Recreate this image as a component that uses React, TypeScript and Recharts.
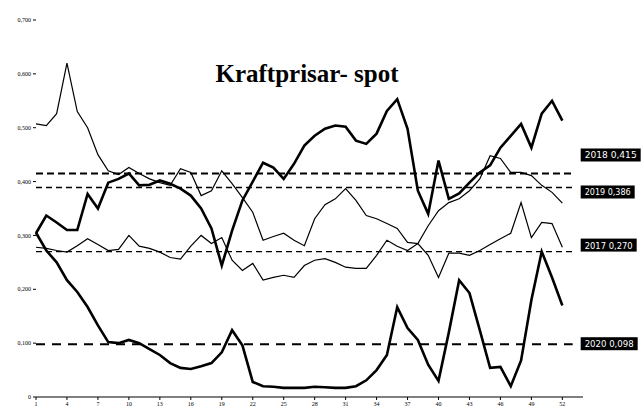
import React from 'react';
import { LineChart, Line, XAxis, YAxis, ReferenceLine } from 'recharts';

// weekly spot prices, kr/kWh
const weeks = [
  1, 2, 3, 4, 5, 6, 7, 8, 9, 10, 11, 12, 13, 14, 15, 16, 17, 18, 19, 20, 21, 22, 23, 24, 25, 26,
  27, 28, 29, 30, 31, 32, 33, 34, 35, 36, 37, 38, 39, 40, 41, 42, 43, 44, 45, 46, 47, 48, 49, 50, 51, 52,
];

const price2017 = [
  0.278, 0.276, 0.272, 0.269, 0.281, 0.294, 0.283, 0.272, 0.274, 0.3, 0.28, 0.276, 0.269, 0.259,
  0.256, 0.28, 0.3, 0.285, 0.296, 0.254, 0.235, 0.248, 0.217, 0.222, 0.226, 0.222, 0.244, 0.254,
  0.257, 0.25, 0.241, 0.239, 0.239, 0.263, 0.291, 0.28, 0.272, 0.285, 0.263, 0.222, 0.267, 0.267,
  0.263, 0.272, 0.283, 0.294, 0.304, 0.361, 0.296, 0.324, 0.322, 0.278,
];

const price2018 = [
  0.304, 0.337, 0.324, 0.31, 0.31, 0.377, 0.35, 0.398, 0.405, 0.415, 0.393, 0.394, 0.402, 0.396,
  0.387, 0.374, 0.35, 0.313, 0.244, 0.309, 0.365, 0.4, 0.435, 0.426, 0.405, 0.433, 0.467, 0.485,
  0.498, 0.504, 0.502, 0.476, 0.47, 0.489, 0.531, 0.553, 0.498, 0.383, 0.34, 0.439, 0.368, 0.378,
  0.398, 0.417, 0.43, 0.463, 0.485, 0.507, 0.463, 0.526, 0.55, 0.513,
];

const price2019 = [
  0.507, 0.504, 0.526, 0.62, 0.53, 0.5, 0.45, 0.42, 0.413, 0.426, 0.415, 0.405, 0.398, 0.393,
  0.424, 0.417, 0.374, 0.383, 0.42, 0.396, 0.37, 0.343, 0.291, 0.298, 0.304, 0.291, 0.281, 0.331,
  0.357, 0.368, 0.387, 0.365, 0.337, 0.331, 0.322, 0.313, 0.287, 0.285, 0.318, 0.346, 0.361, 0.368,
  0.383, 0.405, 0.448, 0.443, 0.417, 0.417, 0.411, 0.393, 0.38, 0.36,
];

const price2020 = [
  0.305, 0.272, 0.25, 0.217, 0.195, 0.167, 0.133, 0.102, 0.1, 0.106, 0.1, 0.089, 0.078, 0.063,
  0.054, 0.052, 0.057, 0.063, 0.083, 0.124, 0.096, 0.028, 0.02, 0.019, 0.017, 0.017, 0.017, 0.019,
  0.018, 0.017, 0.017, 0.02, 0.031, 0.05, 0.078, 0.167, 0.128, 0.106, 0.06, 0.03, 0.12, 0.217,
  0.193, 0.124, 0.054, 0.056, 0.02, 0.068, 0.18, 0.27, 0.222, 0.17,
];

// yearly averages (dashed lines)
const averages = [0.415, 0.389, 0.27, 0.098];
const averageLabels = ['2018 0,415', '2019 0,386', '2017 0,270', '2020 0,098'];

const xTicks = [1, 4, 7, 10, 13, 16, 19, 22, 25, 28, 31, 34, 37, 40, 43, 46, 49, 52];
const yTicks = [0, 0.1, 0.2, 0.3, 0.4, 0.5, 0.6, 0.7];
const yTickLabels = ['0', '0,100', '0,200', '0,300', '0,400', '0,500', '0,600', '0,700'];

const data = weeks.map((week, i) => ({
  week,
  y2017: price2017[i],
  y2018: price2018[i],
  y2019: price2019[i],
  y2020: price2020[i],
}));

// look of each average line and where its tag sits relative to the line end
const avgStyle = [
  { width: 2, dash: '7 4', dy: -18, boxW: 60 },
  { width: 1.6, dash: '6 4', dy: 5, boxW: 54 },
  { width: 1.4, dash: '6 4', dy: -6, boxW: 56 },
  { width: 2, dash: '9 7', dy: 0, boxW: 57 },
];

const TagLabel = ({ viewBox, text, dy, boxW }: any) => {
  if (!viewBox) return null;
  const x = viewBox.x + viewBox.width + 8;
  const y = viewBox.y + dy;
  return (
    <g>
      <rect x={x} y={y - 7} width={boxW} height={13} fill="#000" />
      <text
        x={x + boxW / 2}
        y={y + 3}
        textAnchor="middle"
        fill="#fff"
        fontSize={8}
        fontFamily="DejaVu Sans, sans-serif"
        textLength={boxW - 8}
        lengthAdjust="spacingAndGlyphs"
      >
        {text}
      </text>
    </g>
  );
};

const App: React.FC = () => {
  return (
    <div style={{ position: 'absolute', left: 0, top: 0, width: 643, height: 409, background: '#fff' }}>
      <div
        style={{
          position: 'absolute',
          left: 0,
          top: 61,
          width: 614,
          textAlign: 'center',
          fontFamily: '"Liberation Serif", serif',
          fontWeight: 'bold',
          fontSize: 25,
          lineHeight: 1,
          color: '#000',
        }}
      >
        Kraftprisar- spot
      </div>
      <LineChart width={643} height={409} data={data} margin={{ top: 20, right: 60, bottom: 0, left: 0 }}>
        <XAxis
          dataKey="week"
          type="number"
          domain={[1, 54]}
          ticks={xTicks}
          interval={0}
          height={12}
          tickSize={3}
          stroke="#000"
          tick={{ fontSize: 6, fill: '#000', fontFamily: 'Liberation Serif' }}
        />
        <YAxis
          type="number"
          domain={[0, 0.7]}
          ticks={yTicks}
          width={36}
          axisLine={false}
          tickSize={3}
          stroke="#000"
          tick={{ fontSize: 6, fill: '#000', fontFamily: 'Liberation Serif' }}
          tickFormatter={(v: number) => yTickLabels[yTicks.indexOf(v)] ?? ''}
        />
        {averages.map((v, i) => (
          <ReferenceLine
            key={i}
            segment={[{ x: 1, y: v }, { x: 53, y: v }]}
            stroke="#000"
            strokeWidth={avgStyle[i].width}
            strokeDasharray={avgStyle[i].dash}
            ifOverflow="visible"
            label={(props: any) => (
              <TagLabel {...props} text={averageLabels[i]} dy={avgStyle[i].dy} boxW={avgStyle[i].boxW} />
            )}
          />
        ))}
        <Line type="linear" dataKey="y2017" stroke="#000" strokeWidth={1.2} dot={false} isAnimationActive={false} />
        <Line type="linear" dataKey="y2019" stroke="#000" strokeWidth={1.2} dot={false} isAnimationActive={false} />
        <Line type="linear" dataKey="y2018" stroke="#000" strokeWidth={2.6} dot={false} isAnimationActive={false} />
        <Line type="linear" dataKey="y2020" stroke="#000" strokeWidth={2.6} dot={false} isAnimationActive={false} />
      </LineChart>
    </div>
  );
};

export default App;
